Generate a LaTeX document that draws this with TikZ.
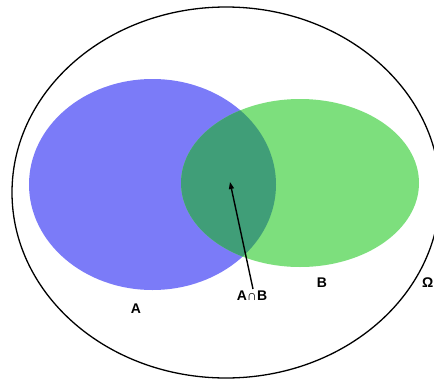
\documentclass[tikz,border=0pt]{standalone}
\usepackage{fontspec}
\setmainfont{Liberation Sans}
\usetikzlibrary{arrows.meta}
\definecolor{setA}{RGB}{123,123,248}
\definecolor{setB}{RGB}{125,223,125}
\definecolor{setAB}{RGB}{64,158,120}
\tikzset{
  lbl/.style={font=\bfseries\fontsize{14}{16}\selectfont, inner sep=0pt},
  outer/.style={draw=black, line width=1.3pt},
}
\begin{document}
\begin{tikzpicture}[x=1pt,y=-1pt]
\useasboundingbox (0,0) rectangle (434,380);
\clip (0,0) rectangle (434,380);
% universe
\draw[outer] (226,192.5) ellipse [x radius=214, y radius=185.5];
% sets
\fill[setA] (152.5,184.5) ellipse [x radius=123.5, y radius=105.5];
\fill[setB] (300,183) ellipse [x radius=119, y radius=84];
\begin{scope}
  \clip (152.5,184.5) ellipse [x radius=123.5, y radius=105.5];
  \fill[setAB] (300,183) ellipse [x radius=119, y radius=84];
\end{scope}
% labels
\node[lbl] (A) at (136,309) {A};
\node[lbl] (B) at (322,283) {B};
\node[lbl] (AB) at (252,296) {A∩B};
\node[lbl, anchor=east] (Om) at (433.5,283) {Ω};
\coordinate (ABin) at (230,182);
\draw[line width=1.4pt, -{Triangle[length=7pt,width=5pt]}] (AB.north) ++(1,-2) -- (ABin);
\end{tikzpicture}
\end{document}
